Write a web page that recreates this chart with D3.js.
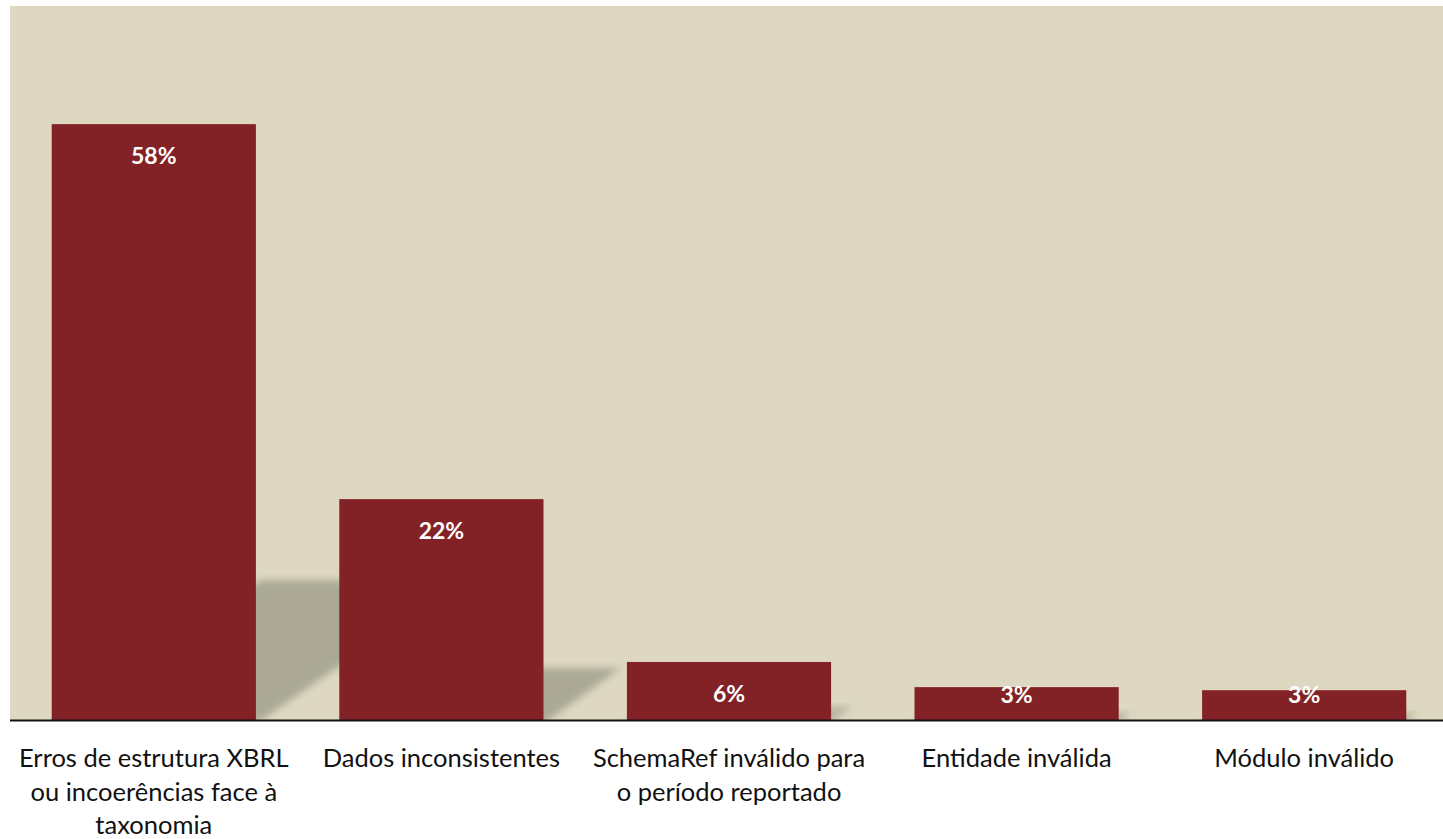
<!DOCTYPE html>
<html>
<head>
<meta charset="utf-8">
<script src="https://cdn.jsdelivr.net/npm/d3@7"></script>
<style>
  html, body { margin: 0; padding: 0; background: #ffffff; }
  svg { display: block; }
</style>
</head>
<body>
<svg id="chart" width="1443" height="839"></svg>
<script>
// Error categories and their share of rejected submissions
const categories = [
  ["Erros de estrutura XBRL", "ou incoerências face à", "taxonomia"],
  ["Dados inconsistentes"],
  ["SchemaRef inválido para", "o período reportado"],
  ["Entidade inválida"],
  ["Módulo inválido"]
];
const shares = [0.58, 0.215, 0.0565, 0.032, 0.029];

const W = 1443, H = 839;
const plot = { left: 10, right: 1448, top: 6, bottom: 720 };

const svg = d3.select("#chart");

const x = d3.scaleBand()
  .domain(d3.range(categories.length))
  .range([plot.left, plot.right])
  .paddingInner(0.29)
  .paddingOuter(0.145);

const y = d3.scaleLinear()
  .domain([0, 0.695])
  .range([plot.bottom, plot.top]);

// plot background
svg.append("rect")
  .attr("x", plot.left).attr("y", plot.top)
  .attr("width", W - plot.left).attr("height", plot.bottom - plot.top)
  .attr("fill", "#DED8C2");

// soft cast shadows behind each bar
const defs = svg.append("defs");
defs.append("filter").attr("id", "soft")
  .attr("x", "-20%").attr("y", "-20%").attr("width", "140%").attr("height", "140%")
  .append("feGaussianBlur").attr("stdDeviation", 3.5);

const clip = defs.append("clipPath").attr("id", "plotClip");
clip.append("rect")
  .attr("x", plot.left).attr("y", plot.top)
  .attr("width", W - plot.left).attr("height", plot.bottom - plot.top);

const shear = 0.35, lift = 0.235;
svg.append("g").attr("clip-path", "url(#plotClip)")
  .selectAll("path").data(shares).join("path")
  .attr("d", (d, i) => {
    const x0 = x(i), x1 = x(i) + x.bandwidth();
    const h = plot.bottom - y(d);
    const dx = shear * h, dy = lift * h;
    return `M${x0},${plot.bottom + 4} L${x1},${plot.bottom + 4} L${x1 + dx},${plot.bottom - dy} L${x0 + dx},${plot.bottom - dy} Z`;
  })
  .attr("fill", "#A9A794")
  .attr("opacity", d => d > 0.1 ? 0.95 : 0.7)
  .attr("filter", "url(#soft)");

// bars
svg.append("g").selectAll("rect").data(shares).join("rect")
  .attr("x", (d, i) => x(i))
  .attr("y", d => y(d))
  .attr("width", x.bandwidth())
  .attr("height", d => plot.bottom - y(d))
  .attr("fill", "#832226");

// value labels
svg.append("g").selectAll("text").data(shares).join("text")
  .attr("x", (d, i) => x(i) + x.bandwidth() / 2)
  .attr("y", d => Math.min(y(d) + 32, 695))
  .attr("dy", "0.35em")
  .attr("text-anchor", "middle")
  .attr("fill", "#ffffff")
  .attr("font-family", "Lato, 'Open Sans', sans-serif")
  .attr("font-weight", "bold")
  .attr("font-size", 23)
  .text(d => d3.format(".0%")(d));

// category axis
const axis = svg.append("g")
  .attr("transform", `translate(0,${plot.bottom})`)
  .call(d3.axisBottom(x).tickSize(0).tickFormat(""));
axis.select(".domain")
  .attr("d", `M${plot.left},0.5H${W}`)
  .attr("stroke", "#111111")
  .attr("stroke-width", 2);

const labels = svg.append("g").selectAll("text").data(categories).join("text")
  .attr("x", (d, i) => x(i) + x.bandwidth() / 2)
  .attr("y", 767)
  .attr("text-anchor", "middle")
  .attr("fill", "#111111")
  .attr("font-family", "Lato, 'Open Sans', sans-serif")
  .attr("font-size", 25.5);
labels.selectAll("tspan").data(d => d).join("tspan")
  .attr("x", function () { return d3.select(this.parentNode).attr("x"); })
  .attr("dy", (d, j) => j === 0 ? 0 : 33.5)
  .text(d => d);
</script>
</body>
</html>
